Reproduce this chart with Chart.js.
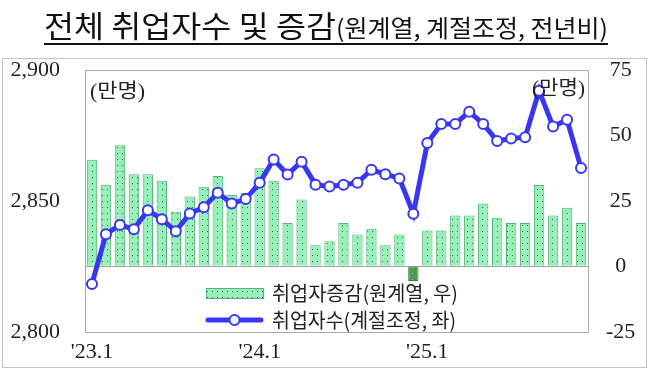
<!DOCTYPE html>
<html>
<head>
<meta charset="utf-8">
<script src="https://cdn.jsdelivr.net/npm/chart.js@4.4.1/dist/chart.umd.min.js"></script>
<style>
body { margin: 0; background: #fff; }
#wrap { position: relative; width: 650px; height: 370px; overflow: hidden; }
#c { position: absolute; left: 0; top: 0; }
.tt { position: absolute; white-space: nowrap; font-family: "Noto Sans CJK KR"; color: #111; transform-origin: 0 0; }
#t1 { left: 44px; top: 9px; font-size: 30px; line-height: 30px; }
#t2 { left: 336px; top: 15px; font-size: 24px; line-height: 24px; }
#uline { position: absolute; left: 44px; top: 43px; width: 564px; height: 2px; background: #111; }
</style>
</head>
<body>
<div id="wrap">
  <canvas id="c" width="650" height="370"></canvas>
  <span class="tt" id="t1">전체 취업자수 및 증감</span>
  <span class="tt" id="t2">(원계열, 계절조정, 전년비)</span>
  <div id="uline"></div>
</div>
<script>
var months = ["'23.1","'23.2","'23.3","'23.4","'23.5","'23.6","'23.7","'23.8","'23.9","'23.10","'23.11","'23.12",
              "'24.1","'24.2","'24.3","'24.4","'24.5","'24.6","'24.7","'24.8","'24.9","'24.10","'24.11","'24.12",
              "'25.1","'25.2","'25.3","'25.4","'25.5","'25.6","'25.7","'25.8","'25.9","'25.10","'25.11","'25.12"];
var shownTicks = ["'23.1", "'24.1", "'25.1"];
// 취업자증감 (원계열, 만명, 우축)
var changeYoY = [40.7, 31.2, 46.3, 35.2, 35.2, 32.7, 20.9, 26.7, 30.4, 34.5, 27.3, 28.0,
                 37.5, 32.7, 16.6, 25.5, 8.1, 9.6, 16.6, 12.2, 14.4, 8.1, 12.2, -5.6,
                 13.7, 13.7, 19.4, 19.4, 24.0, 18.6, 16.6, 16.6, 31.1, 19.4, 22.4, 16.6];
// 취업자수 (계절조정, 만명, 좌축)
var employed = [2818.3, 2837.3, 2840.8, 2839.2, 2846.4, 2843.0, 2838.4, 2845.2, 2847.6, 2853.1, 2849.0, 2850.7,
                2856.9, 2865.8, 2860.1, 2865.0, 2856.2, 2855.5, 2856.2, 2856.9, 2861.9, 2860.2, 2858.6, 2845.1,
                2872.1, 2879.4, 2879.4, 2884.1, 2879.4, 2872.9, 2873.8, 2874.3, 2892.1, 2878.4, 2881.0, 2862.6];
var seriesNames = ["취업자증감(원계열, 우)", "취업자수(계절조정, 좌)"];
var unitLabel = "(만명)";

function fitWidth(id, w) {
    var el = document.getElementById(id);
    var r = el.getBoundingClientRect().width;
    el.style.transform = "scaleX(" + (w / r) + ")";
}
fitWidth("t1", 292);
fitWidth("t2", 272);

var BLUE = "#3737f2";
var BAR_EDGE = "#55b57a";

function makePattern(bg, dot) {
    var p = document.createElement("canvas");
    p.width = 5; p.height = 6;
    var g = p.getContext("2d");
    g.fillStyle = bg; g.fillRect(0, 0, 5, 6);
    g.fillStyle = dot; g.fillRect(2, 3, 1, 1);
    return document.getElementById("c").getContext("2d").createPattern(p, "repeat");
}
var posFill = makePattern("#98efb9", "#2d6e45");
var negFill = makePattern("#4f9a56", "#9ad5a0");

function fitText(ctx, txt, x, y, w) {
    var m = ctx.measureText(txt).width;
    ctx.save();
    ctx.translate(x, y);
    ctx.scale(w / m, 1);
    ctx.fillText(txt, 0, 0);
    ctx.restore();
}

var decor = {
    id: "decor",
    beforeDraw: function (chart) {
        var ctx = chart.ctx;
        ctx.save();
        ctx.fillStyle = "#fff";
        ctx.fillRect(0, 0, chart.width, chart.height);
        ctx.strokeStyle = "#c4c4c4";
        ctx.lineWidth = 1;
        ctx.strokeRect(2.5, 58.5, 644, 309);
        ctx.restore();
    },
    beforeDatasetsDraw: function (chart) {
        var a = chart.chartArea, ctx = chart.ctx;
        ctx.save();
        ctx.strokeStyle = "#ababab";
        ctx.lineWidth = 1;
        ctx.strokeRect(Math.round(a.left) + 0.5, Math.round(a.top) + 0.5, Math.round(a.right - a.left), Math.round(a.bottom - a.top));
        ctx.restore();
    },
    afterDraw: function (chart) {
        var ctx = chart.ctx;
        ctx.save();
        ctx.fillStyle = "#222";
        ctx.textBaseline = "middle";
        ctx.font = '20px "Liberation Serif", "Noto Sans CJK KR"';
        fitText(ctx, unitLabel, 90, 93, 55);
        fitText(ctx, unitLabel, 532, 90, 53);

        // legend
        ctx.fillStyle = posFill;
        ctx.fillRect(206, 288, 57, 10);
        ctx.strokeStyle = BAR_EDGE;
        ctx.lineWidth = 1;
        ctx.strokeRect(206.5, 288.5, 57, 10);
        ctx.strokeStyle = BLUE;
        ctx.lineWidth = 5;
        ctx.lineCap = "round";
        ctx.beginPath(); ctx.moveTo(208, 320); ctx.lineTo(261, 320); ctx.stroke();
        ctx.fillStyle = "#fff";
        ctx.lineWidth = 2;
        ctx.beginPath(); ctx.arc(234.5, 320, 5, 0, Math.PI * 2); ctx.fill(); ctx.stroke();
        ctx.fillStyle = "#222";
        ctx.font = '20px "Noto Sans CJK KR"';
        fitText(ctx, seriesNames[0], 272, 293, 186);
        fitText(ctx, seriesNames[1], 272, 320, 184);
        ctx.restore();
    }
};

var tickFont = { family: '"Liberation Serif", serif', size: 22 };

new Chart("c", {
    data: {
        labels: months,
        datasets: [{
            type: "line",
            label: seriesNames[1],
            data: employed,
            yAxisID: "y",
            order: 0,
            borderColor: BLUE,
            borderWidth: 5,
            tension: 0,
            pointRadius: 5,
            pointBorderWidth: 2,
            pointBackgroundColor: "#fff",
            pointBorderColor: BLUE
        }, {
            type: "bar",
            label: seriesNames[0],
            data: changeYoY,
            yAxisID: "y1",
            order: 1,
            backgroundColor: function (c) { return c.raw < 0 ? negFill : posFill; },
            borderColor: function (c) { return c.raw < 0 ? "#3f7f45" : BAR_EDGE; },
            borderWidth: 1,
            categoryPercentage: 1,
            barPercentage: 0.74
        }]
    },
    options: {
        responsive: false,
        animation: false,
        devicePixelRatio: 1,
        layout: { padding: { top: 70, left: 0, right: 0, bottom: 0 } },
        plugins: { legend: { display: false }, tooltip: { enabled: false } },
        scales: {
            x: {
                grid: { display: false, drawTicks: false },
                border: { display: false },
                afterFit: function (s) { s.height = 37; },
                ticks: {
                    autoSkip: false, maxRotation: 0, padding: 7,
                    color: "#222", font: tickFont,
                    callback: function (v) {
                        var l = this.getLabelForValue(v);
                        return shownTicks.indexOf(l) >= 0 ? l : "";
                    }
                }
            },
            y: {
                position: "left",
                min: 2800, max: 2900,
                grid: { display: false, drawTicks: false },
                border: { display: false },
                afterFit: function (s) { s.width = 85; },
                ticks: {
                    stepSize: 50, padding: 25, color: "#222", font: tickFont,
                    callback: function (v) { return v.toLocaleString("en-US"); }
                }
            },
            y1: {
                position: "right",
                min: -25, max: 75,
                grid: {
                    drawTicks: false,
                    color: function (c) { return c.tick && c.tick.value === 0 ? "#a0a0a0" : "rgba(0,0,0,0)"; }
                },
                border: { display: false },
                afterFit: function (s) { s.width = 62; },
                ticks: { stepSize: 25, padding: 18, crossAlign: "center", color: "#222", font: tickFont }
            }
        }
    },
    plugins: [decor]
});
</script>
</body>
</html>
